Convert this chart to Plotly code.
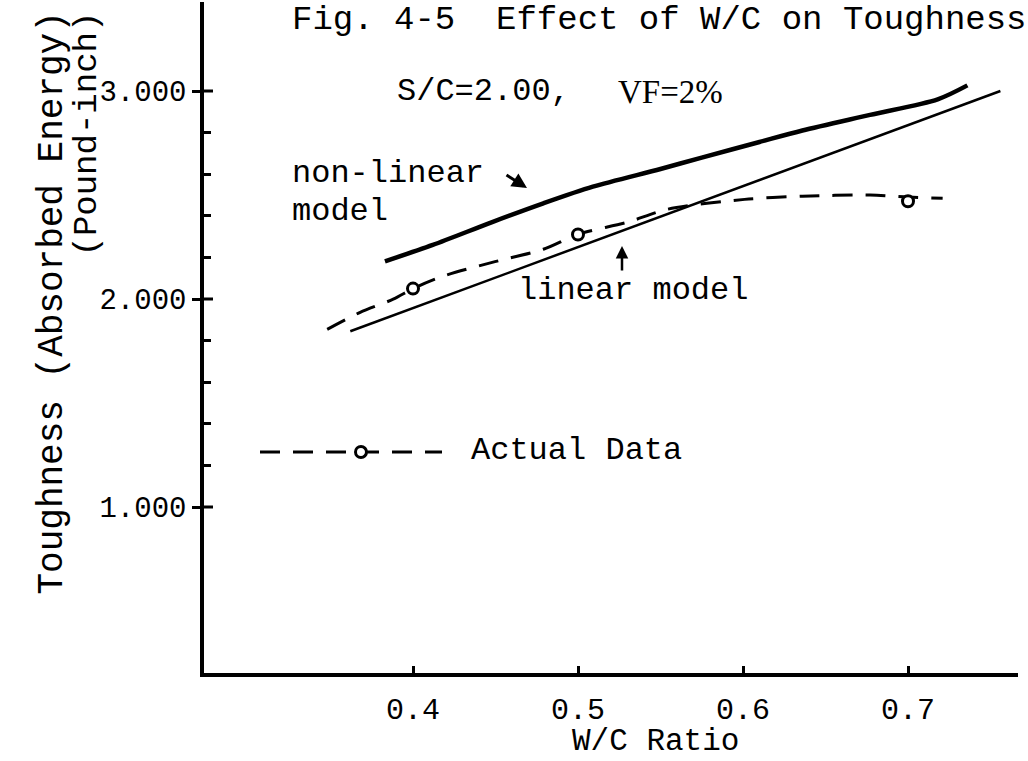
import plotly.graph_objects as go

# ---------------- data ----------------
wc_nonlinear = [0.383, 0.412, 0.448, 0.479, 0.509, 0.550, 0.575, 0.610, 0.636, 0.677, 0.718, 0.736]
tough_nonlinear = [2.181, 2.260, 2.370, 2.460, 2.540, 2.625, 2.680, 2.755, 2.810, 2.885, 2.960, 3.027]

wc_linear = [0.362, 0.756]
tough_linear = [1.845, 3.000]

wc_actual_curve = [0.348, 0.368, 0.388, 0.400, 0.418, 0.448, 0.479, 0.500, 0.530, 0.554,
                   0.601, 0.636, 0.677, 0.700, 0.721]
tough_actual_curve = [1.854, 1.936, 1.999, 2.050, 2.109, 2.176, 2.239, 2.311, 2.369, 2.431,
                      2.479, 2.494, 2.500, 2.490, 2.484]

wc_points = [0.4, 0.5, 0.7]
tough_points = [2.05, 2.31, 2.47]

x_ticks = [0.4, 0.5, 0.6, 0.7]
x_tick_labels = ["0.4", "0.5", "0.6", "0.7"]
y_ticks = [1.0, 2.0, 3.0]
y_tick_labels = ["1.000", "2.000", "3.000"]
y_minor_ticks = [1.2, 1.4, 1.6, 1.8, 2.2, 2.4, 2.6, 2.8]

# ---------------- layout geometry ----------------
W, H = 1028, 761
L, R, T, B = 204, 10, 2, 88
PW, PH = W - L - R, H - T - B
X_RANGE = [0.4 - 209 / 1650, 0.4 - 209 / 1650 + PW / 1650]
Y_RANGE = [1 - 166 / 208, 1 - 166 / 208 + PH / 208]

MONO = "Courier New, Liberation Mono, monospace"
SERIF = "Liberation Serif, Times New Roman, serif"
FS = 32
TICK_FS = 29


def pxx(x):
    return (x - L) / PW


def pxy(y):
    return (H - B - y) / PH


fig = go.Figure()

fig.add_trace(go.Scatter(x=wc_linear, y=tough_linear, mode="lines",
                         line=dict(color="black", width=2.5), hoverinfo="skip"))
fig.add_trace(go.Scatter(x=wc_nonlinear, y=tough_nonlinear, mode="lines",
                         line=dict(color="black", width=4.5, shape="spline", smoothing=0.8),
                         hoverinfo="skip"))
fig.add_trace(go.Scatter(x=wc_actual_curve, y=tough_actual_curve, mode="lines",
                         line=dict(color="black", width=3, dash="20px,13px", shape="spline",
                                   smoothing=0.8),
                         hoverinfo="skip"))
fig.add_trace(go.Scatter(x=wc_points, y=tough_points, mode="markers",
                         marker=dict(symbol="circle", size=11, color="white",
                                     line=dict(color="black", width=3))))

shapes = []
# inner halves of the major y ticks (ticks cross the axis)
for v in y_ticks:
    shapes.append(dict(type="line", xref="x domain", yref="y", xsizemode="pixel", xanchor=0,
                       x0=0, x1=9, y0=v, y1=v, line=dict(color="black", width=3)))
# legend key for the actual data
shapes.append(dict(type="line", xref="paper", yref="paper", x0=pxx(260), x1=pxx(442),
                   y0=pxy(452), y1=pxy(452), line=dict(color="black", width=3, dash="20px,13px")))
shapes.append(dict(type="circle", xref="paper", yref="paper", xsizemode="pixel", ysizemode="pixel",
                   xanchor=pxx(361), yanchor=pxy(452), x0=-5.5, x1=5.5, y0=-5.5, y1=5.5,
                   fillcolor="white", line=dict(color="black", width=3)))

annotations = [
    dict(text="Fig.\u00a04-5\u00a0\u00a0Effect\u00a0of\u00a0W/C\u00a0on\u00a0Toughness",
         x=pxx(290), y=pxy(20), xanchor="left", yanchor="middle", font=dict(size=34)),
    dict(text="S/C=2.00,", x=pxx(395), y=pxy(92), xanchor="left", yanchor="middle"),
    dict(text="VF=2%", x=pxx(616), y=pxy(92), xanchor="left", yanchor="middle",
         font=dict(family=SERIF, size=33)),
    dict(text="non-linear", x=pxx(290), y=pxy(173), xanchor="left", yanchor="middle"),
    dict(text="model", x=pxx(290), y=pxy(211), xanchor="left", yanchor="middle"),
    dict(text="", x=pxx(527), y=pxy(188), ax=-22, ay=-14, showarrow=True, arrowhead=2,
         arrowsize=1, arrowwidth=3, arrowcolor="black"),
    dict(text="linear model", x=pxx(516), y=pxy(290), xanchor="left", yanchor="middle"),
    dict(text="", x=pxx(622), y=pxy(246), ax=0, ay=26, showarrow=True, arrowhead=2,
         arrowsize=1, arrowwidth=2.5, arrowcolor="black"),
    dict(text="Actual Data", x=pxx(469), y=pxy(450), xanchor="left", yanchor="middle"),
    dict(text="W/C Ratio", x=pxx(655), y=pxy(741), xanchor="center", yanchor="middle",
         font=dict(size=31)),
    dict(text="Toughness (Absorbed Energy)", x=pxx(52), y=pxy(10), xanchor="center",
         yanchor="top", textangle=-90, font=dict(size=36)),
    dict(text="(Pound-inch)", x=pxx(86), y=pxy(10), xanchor="center", yanchor="top",
         textangle=-90, font=dict(size=34)),
]
for a in annotations:
    a.setdefault("xref", "paper")
    a.setdefault("yref", "paper")
    a.setdefault("showarrow", False)
    f = a.setdefault("font", {})
    f.setdefault("family", MONO)
    f.setdefault("size", FS)
    f.setdefault("color", "black")

fig.update_layout(
    width=W, height=H, autosize=False,
    margin=dict(l=L, r=R, t=T, b=B),
    paper_bgcolor="white", plot_bgcolor="white",
    showlegend=False,
    font=dict(family=MONO, size=FS, color="black"),
    shapes=shapes, annotations=annotations,
    xaxis=dict(range=X_RANGE, showgrid=False, zeroline=False, showline=True,
               linecolor="black", linewidth=3.5, tickmode="array", tickvals=x_ticks,
               ticktext=x_tick_labels, ticks="inside", ticklen=7, tickwidth=3,
               tickcolor="black", ticklabelstandoff=6,
               tickfont=dict(family=MONO, size=30, color="black")),
    yaxis=dict(range=Y_RANGE, showgrid=False, zeroline=False, showline=True,
               linecolor="black", linewidth=3.5, tickmode="array", tickvals=y_ticks,
               ticktext=y_tick_labels, ticks="outside", ticklen=8, tickwidth=3,
               tickcolor="black",
               tickfont=dict(family=MONO, size=TICK_FS, color="black"),
               minor=dict(tickmode="array", tickvals=y_minor_ticks, ticks="inside",
                          ticklen=7, tickwidth=2.5, tickcolor="black")),
)

fig.write_html("out.html")
